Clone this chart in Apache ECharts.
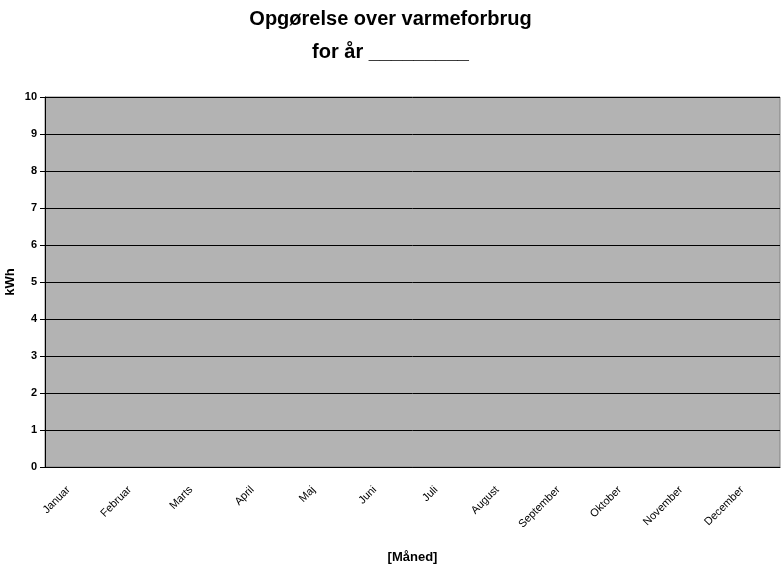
<!DOCTYPE html>
<html>
<head>
<meta charset="utf-8">
<script src="https://cdn.jsdelivr.net/npm/echarts@6/dist/echarts.min.js"></script>
<style>
  html, body { margin: 0; padding: 0; background: #fff; }
  #chart { width: 781px; height: 571px; }
</style>
</head>
<body>
<div id="chart"></div>
<script>
// måneder på x-aksen
var months = ['Januar', 'Februar', 'Marts', 'April', 'Maj', 'Juni', 'Juli',
  'August', 'September', 'Oktober', 'November', 'December']
// forbrug pr. måned (skemaet er tomt)
var forbrug = [null, null, null, null, null, null, null, null, null, null, null, null]
var yMin = 0
var yMax = 10
var yStep = 1

var chart = echarts.init(document.getElementById('chart'))
var font = 'Liberation Sans, Arial, sans-serif'

var option = {
  animation: false,
  title: {
    text: 'Opgørelse over varmeforbrug\nfor år _________',
    left: 'center',
    top: -2,
    textStyle: {
      fontFamily: font,
      fontSize: 20,
      fontWeight: 'bold',
      color: '#000',
      lineHeight: 33
    }
  },
  grid: {
    left: 45,
    right: 1,
    top: 97,
    bottom: 104,
    outerBoundsMode: 'none',
    containLabel: false,
    show: true,
    backgroundColor: '#b3b3b3',
    borderColor: '#808080',
    borderWidth: 1
  },
  xAxis: {
    type: 'category',
    data: months,
    boundaryGap: true,
    name: '[Måned]',
    nameLocation: 'middle',
    nameGap: 84,
    nameMoveOverlap: false,
    nameTextStyle: { fontFamily: font, fontSize: 13, fontWeight: 'bold', color: '#000' },
    axisLine: { lineStyle: { color: '#000', width: 1 } },
    axisTick: { length: 5, lineStyle: { color: '#000' } },
    axisLabel: {
      rotate: 45,
      interval: 0,
      margin: 14,
      padding: [0, 10, 0, 0],
      fontFamily: font,
      fontSize: 11,
      color: '#000'
    },
    splitLine: { show: false }
  },
  yAxis: {
    type: 'value',
    min: yMin,
    max: yMax,
    interval: yStep,
    name: 'kWh',
    nameLocation: 'middle',
    nameGap: 28,
    nameMoveOverlap: false,
    nameTextStyle: { fontFamily: font, fontSize: 13, fontWeight: 'bold', color: '#000' },
    axisLine: { show: true, lineStyle: { color: '#000', width: 1 } },
    axisTick: { show: true, length: 5, lineStyle: { color: '#000' } },
    axisLabel: {
      margin: 8,
      fontFamily: font,
      fontSize: 11,
      fontWeight: 'bold',
      color: '#000'
    },
    splitLine: { lineStyle: { color: '#000', width: 1 } }
  },
  series: [
    {
      name: 'Forbrug',
      type: 'bar',
      data: forbrug
    }
  ]
}
chart.setOption(option)
</script>
</body>
</html>
